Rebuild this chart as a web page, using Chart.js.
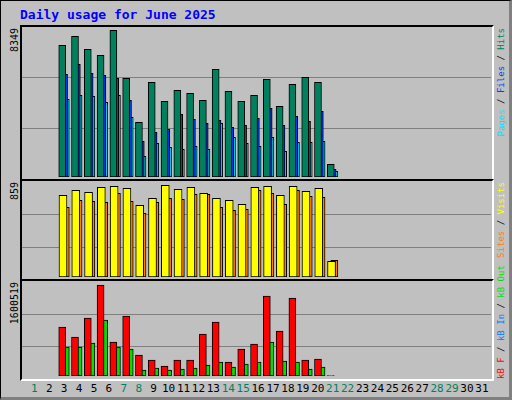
<!DOCTYPE html>
<html><head><meta charset="utf-8">
<script src="https://cdn.jsdelivr.net/npm/chart.js@4/dist/chart.umd.min.js"></script>
<style>
body{margin:0;background:#fff}
#f{position:absolute;left:0;top:0;width:508px;height:396px;border:1px solid #000;border-right:3px solid #808080;border-bottom:3px solid #808080;background:#c0c0c0}
.pn{position:absolute;box-sizing:border-box;border-top:2px solid #000;border-left:2px solid #000;border-right:2px solid #fff;border-bottom:2px solid #fff}
.t{position:absolute;font-family:"DejaVu Sans Mono",monospace;white-space:nowrap}
.r{position:absolute;font-family:"DejaVu Sans Mono",monospace;font-size:9px;white-space:nowrap;transform-origin:left top;transform:rotate(-90deg);width:160px;line-height:11px}
canvas{position:absolute}
</style></head><body>
<div id="f"></div>
<script>
const days=[1,2,3,4,5,6,7,8,9,10,11,12,13,14,15,16,17,18,19,20,21,22];
const hits=[7494,8006,7266,6925,8349,5616,3112,5388,4307,4933,4763,4364,6128,4876,4307,4649,5559,4023,5275,5673,5388,723];
const files=[5844,6413,5900,5787,5616,4364,2031,2543,2714,3568,3283,3056,3226,2828,2942,3340,3909,2942,3454,3169,3738,438];
const pages=[4421,4649,4592,4250,4649,3397,1178,1918,1690,1576,1747,1576,3056,2259,1918,1747,2259,1462,1974,1974,2031,324];
const visits=[765,812,793,840,849,831,671,737,859,821,840,784,737,718,681,840,849,765,849,803,831,147];
const sites=[653,718,709,700,784,709,597,700,737,728,775,775,653,625,634,812,784,681,812,756,746,156];
const kbF=[861800,686000,1020000,1600519,598000,1055000,369000,281000,176000,281000,281000,739000,950000,246000,475000,563000,1407000,792000,1372000,281000,299000,8000];
const kbIn=[6000,6000,6000,6000,6000,6000,6000,6000,6000,6000,6000,6000,6000,6000,6000,6000,6000,6000,6000,6000,6000,0];
const kbOut=[510000,510000,580000,985000,510000,475000,106000,141000,106000,123000,141000,193000,246000,158000,211000,246000,598000,264000,246000,123000,158000,0];
const allDays=Array.from({length:31},(_,i)=>i+1);
const weekend=[1,7,8,14,15,21,22,28,29];

const f=document.getElementById('f');
function el(cls,css,html){const d=document.createElement('div');d.className=cls;d.style.cssText=css;d.innerHTML=html;f.appendChild(d);return d;}
el('t','left:19px;top:6px;font-size:13px;font-weight:bold;color:#0000ff','Daily usage for June 2025');
const P=[{t:24,b:180},{t:178,b:280},{t:278,b:380}];
P.forEach(p=>el('pn',`left:19px;top:${p.t}px;width:474px;height:${p.b-p.t}px`,''));
el('r','left:8px;top:'+(27+160)+'px;color:#000;font-size:10px;text-align:right','8349');
el('r','left:8px;top:'+(181+160)+'px;color:#000;font-size:10px;text-align:right','859');
el('r','left:8px;top:'+(281+160)+'px;color:#000;font-size:10px;text-align:right','1600519');
el('r','left:495px;top:'+(27+160)+'px;text-align:right','<span style="color:#00e0ff">Pages</span> / <span style="color:#0040ff">Files</span> / <span style="color:#00805c">Hits</span>');
el('r','left:495px;top:'+(181+160)+'px;text-align:right','<span style="color:#ff8000">Sites</span> / <span style="color:#ffff00">Visits</span>');
el('r','left:495px;top:378px;text-align:left','<span style="color:#ff0000">kB F</span> / <span style="color:#0080ff">kB In</span> / <span style="color:#00e000">kB Out</span>');
allDays.forEach(d=>{
  const x=33.3+14.92*(d-1);
  el('t',`left:${x-10}px;width:20px;text-align:center;top:381px;font-size:11px;color:${weekend.includes(d)?'#00805c':'#000'}`,String(d));
});

function mk(top,h,max,grids,sets){
  const c=document.createElement('canvas');
  c.style.cssText=`left:21px;top:${top}px;width:469px;height:${h}px`;
  c.width=469;c.height=h;f.appendChild(c);
  new Chart(c,{type:'bar',
    data:{datasets:sets.map(s=>({data:s.d.map((v,i)=>({x:days[i]+s.o,y:v})),backgroundColor:s.c,borderColor:'#000',borderWidth:1,barThickness:s.w,grouped:false,borderSkipped:false}))},
    options:{responsive:false,animation:false,devicePixelRatio:1,
      layout:{padding:0},
      plugins:{legend:{display:false},tooltip:{enabled:false}},
      scales:{
        x:{type:'linear',min:0.175,max:31.61,display:false,afterFit:a=>{a.height=0;}},
        y:{min:0,max:max,afterBuildTicks:a=>{a.ticks=grids.map(v=>({value:v}));},afterFit:a=>{a.width=0;},
           ticks:{display:false,padding:0},border:{display:false},grid:{color:'#808080',lineWidth:1,drawTicks:false,tickLength:0}}
      }}});
}
mk(27,149,8481,[2789,5691],[
  {d:hits,c:'#00805c',o:-0.30,w:7},
  {d:files,c:'#0040ff',o:-0.155,w:7},
  {d:pages,c:'#00e0ff',o:-0.02,w:7}]);
mk(180,96,900,[281,590],[
  {d:visits,c:'#ffff00',o:-0.24,w:8},
  {d:sites,c:'#ff8000',o:-0.02,w:7}]);
mk(281,94,1653000,[510000,1090000],[
  {d:kbF,c:'#ff0000',o:-0.30,w:7},
  {d:kbIn,c:'#0080ff',o:-0.155,w:7},
  {d:kbOut,c:'#00e000',o:-0.02,w:7}]);
</script></body></html>
